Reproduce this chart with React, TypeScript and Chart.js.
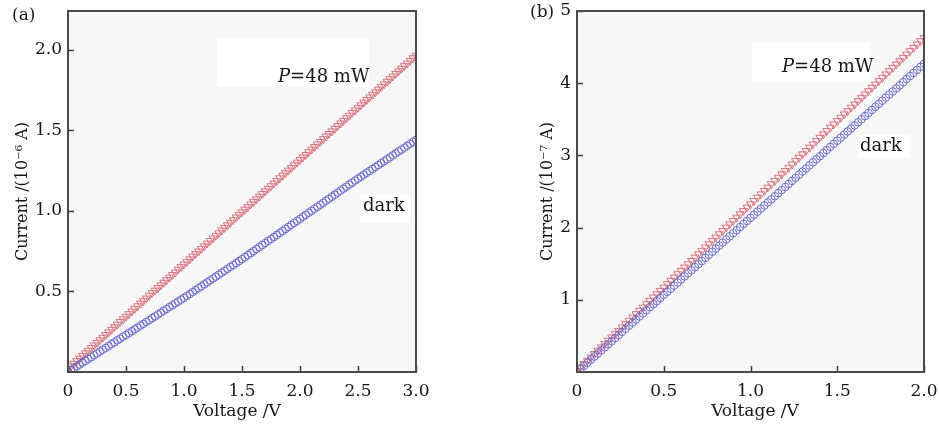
import React, { useEffect, useRef } from "react";
import { Chart, registerables } from "chart.js";
Chart.register(...registerables);

// ---------- Panel (a) data: voltage (V) vs current (1e-6 A) ----------
const VOLT_A = [
  0.0, 0.025, 0.05, 0.075, 0.1, 0.125, 0.15, 0.175, 0.2, 0.225, 0.25, 0.275, 0.3, 0.325, 0.35, 0.375,
  0.4, 0.425, 0.45, 0.475, 0.5, 0.525, 0.55, 0.575, 0.6, 0.625, 0.65, 0.675, 0.7, 0.725, 0.75, 0.775,
  0.8, 0.825, 0.85, 0.875, 0.9, 0.925, 0.95, 0.975, 1.0, 1.025, 1.05, 1.075, 1.1, 1.125, 1.15, 1.175,
  1.2, 1.225, 1.25, 1.275, 1.3, 1.325, 1.35, 1.375, 1.4, 1.425, 1.45, 1.475, 1.5, 1.525, 1.55, 1.575,
  1.6, 1.625, 1.65, 1.675, 1.7, 1.725, 1.75, 1.775, 1.8, 1.825, 1.85, 1.875, 1.9, 1.925, 1.95, 1.975,
  2.0, 2.025, 2.05, 2.075, 2.1, 2.125, 2.15, 2.175, 2.2, 2.225, 2.25, 2.275, 2.3, 2.325, 2.35, 2.375,
  2.4, 2.425, 2.45, 2.475, 2.5, 2.525, 2.55, 2.575, 2.6, 2.625, 2.65, 2.675, 2.7, 2.725, 2.75, 2.775,
  2.8, 2.825, 2.85, 2.875, 2.9, 2.925, 2.95, 2.975, 3.0,
];
const LIGHT_A = [
  0.02, 0.036, 0.052, 0.069, 0.085, 0.101, 0.117, 0.133, 0.15, 0.166, 0.182, 0.198, 0.214, 0.231, 0.247, 0.263,
  0.279, 0.295, 0.312, 0.328, 0.344, 0.36, 0.376, 0.393, 0.409, 0.425, 0.441, 0.457, 0.474, 0.49, 0.506, 0.522,
  0.538, 0.555, 0.571, 0.587, 0.603, 0.619, 0.636, 0.652, 0.668, 0.684, 0.7, 0.717, 0.733, 0.749, 0.765, 0.781,
  0.798, 0.814, 0.83, 0.846, 0.862, 0.879, 0.895, 0.911, 0.927, 0.943, 0.96, 0.976, 0.992, 1.008, 1.024, 1.041,
  1.057, 1.073, 1.089, 1.105, 1.122, 1.138, 1.154, 1.17, 1.186, 1.203, 1.219, 1.235, 1.251, 1.267, 1.284, 1.3,
  1.316, 1.332, 1.348, 1.365, 1.381, 1.397, 1.413, 1.429, 1.446, 1.462, 1.478, 1.494, 1.51, 1.527, 1.543, 1.559,
  1.575, 1.591, 1.608, 1.624, 1.64, 1.656, 1.672, 1.689, 1.705, 1.721, 1.737, 1.753, 1.77, 1.786, 1.802, 1.818,
  1.834, 1.851, 1.867, 1.883, 1.899, 1.915, 1.932, 1.948, 1.964,
];
const DARK_A = [
  0.0, 0.012, 0.023, 0.035, 0.046, 0.058, 0.069, 0.081, 0.092, 0.104, 0.115, 0.127, 0.138, 0.15, 0.161, 0.173,
  0.184, 0.196, 0.207, 0.219, 0.23, 0.242, 0.253, 0.265, 0.276, 0.288, 0.299, 0.311, 0.322, 0.334, 0.345, 0.357,
  0.368, 0.38, 0.391, 0.403, 0.414, 0.426, 0.437, 0.449, 0.46, 0.472, 0.484, 0.496, 0.508, 0.52, 0.532, 0.544,
  0.556, 0.568, 0.58, 0.592, 0.604, 0.616, 0.628, 0.64, 0.652, 0.664, 0.676, 0.688, 0.7, 0.713, 0.725, 0.738,
  0.75, 0.763, 0.775, 0.788, 0.8, 0.813, 0.825, 0.838, 0.85, 0.863, 0.875, 0.888, 0.9, 0.913, 0.925, 0.938,
  0.95, 0.963, 0.975, 0.988, 1.0, 1.013, 1.025, 1.038, 1.05, 1.063, 1.075, 1.088, 1.1, 1.113, 1.125, 1.138,
  1.15, 1.163, 1.175, 1.188, 1.2, 1.212, 1.224, 1.236, 1.248, 1.26, 1.272, 1.284, 1.296, 1.308, 1.32, 1.332,
  1.344, 1.356, 1.368, 1.38, 1.392, 1.404, 1.416, 1.428, 1.44,
];
const X_TICKS_A = [0, 0.5, 1.0, 1.5, 2.0, 2.5, 3.0];
const X_LABELS_A = ["0", "0.5", "1.0", "1.5", "2.0", "2.5", "3.0"];
const Y_TICKS_A = [0.5, 1.0, 1.5, 2.0];
const Y_LABELS_A = ["0.5", "1.0", "1.5", "2.0"];

// ---------- Panel (b) data: voltage (V) vs current (1e-7 A) ----------
const VOLT_B = [
  0.0, 0.02, 0.04, 0.06, 0.08, 0.1, 0.12, 0.14, 0.16, 0.18, 0.2, 0.22, 0.24, 0.26, 0.28, 0.3,
  0.32, 0.34, 0.36, 0.38, 0.4, 0.42, 0.44, 0.46, 0.48, 0.5, 0.52, 0.54, 0.56, 0.58, 0.6, 0.62,
  0.64, 0.66, 0.68, 0.7, 0.72, 0.74, 0.76, 0.78, 0.8, 0.82, 0.84, 0.86, 0.88, 0.9, 0.92, 0.94,
  0.96, 0.98, 1.0, 1.02, 1.04, 1.06, 1.08, 1.1, 1.12, 1.14, 1.16, 1.18, 1.2, 1.22, 1.24, 1.26,
  1.28, 1.3, 1.32, 1.34, 1.36, 1.38, 1.4, 1.42, 1.44, 1.46, 1.48, 1.5, 1.52, 1.54, 1.56, 1.58,
  1.6, 1.62, 1.64, 1.66, 1.68, 1.7, 1.72, 1.74, 1.76, 1.78, 1.8, 1.82, 1.84, 1.86, 1.88, 1.9,
  1.92, 1.94, 1.96, 1.98, 2.0,
];
const LIGHT_B = [
  0.02, 0.066, 0.112, 0.158, 0.204, 0.251, 0.297, 0.343, 0.389, 0.435, 0.481, 0.527, 0.573, 0.619, 0.665, 0.712,
  0.758, 0.804, 0.85, 0.896, 0.942, 0.988, 1.034, 1.08, 1.126, 1.173, 1.219, 1.265, 1.311, 1.357, 1.403, 1.449,
  1.495, 1.541, 1.587, 1.634, 1.68, 1.726, 1.772, 1.818, 1.864, 1.91, 1.956, 2.002, 2.048, 2.095, 2.141, 2.187,
  2.233, 2.279, 2.325, 2.371, 2.417, 2.463, 2.509, 2.556, 2.602, 2.648, 2.694, 2.74, 2.786, 2.832, 2.878, 2.924,
  2.97, 3.017, 3.063, 3.109, 3.155, 3.201, 3.247, 3.293, 3.339, 3.385, 3.431, 3.478, 3.524, 3.57, 3.616, 3.662,
  3.708, 3.754, 3.8, 3.846, 3.892, 3.939, 3.985, 4.031, 4.077, 4.123, 4.169, 4.215, 4.261, 4.307, 4.353, 4.4,
  4.446, 4.492, 4.538, 4.584, 4.63,
];
const DARK_B = [
  0.0, 0.043, 0.085, 0.128, 0.171, 0.214, 0.256, 0.299, 0.342, 0.384, 0.427, 0.47, 0.512, 0.555, 0.598, 0.641,
  0.683, 0.726, 0.769, 0.811, 0.854, 0.897, 0.939, 0.982, 1.025, 1.068, 1.11, 1.153, 1.196, 1.238, 1.281, 1.324,
  1.366, 1.409, 1.452, 1.495, 1.537, 1.58, 1.623, 1.665, 1.708, 1.751, 1.793, 1.836, 1.879, 1.922, 1.964, 2.007,
  2.05, 2.092, 2.135, 2.178, 2.22, 2.263, 2.306, 2.349, 2.391, 2.434, 2.477, 2.519, 2.562, 2.605, 2.647, 2.69,
  2.733, 2.776, 2.818, 2.861, 2.904, 2.946, 2.989, 3.032, 3.074, 3.117, 3.16, 3.203, 3.245, 3.288, 3.331, 3.373,
  3.416, 3.459, 3.501, 3.544, 3.587, 3.63, 3.672, 3.715, 3.758, 3.8, 3.843, 3.886, 3.928, 3.971, 4.014, 4.057,
  4.099, 4.142, 4.185, 4.227, 4.27,
];
const X_TICKS_B = [0, 0.5, 1.0, 1.5, 2.0];
const X_LABELS_B = ["0", "0.5", "1.0", "1.5", "2.0"];
const Y_TICKS_B = [1, 2, 3, 4, 5];
const Y_LABELS_B = ["1", "2", "3", "4", "5"];

const SERIES_LIGHT = "P=48 mW";
const SERIES_DARK = "dark";
const X_TITLE = "Voltage /V";
const Y_TITLE_A = "Current /(10\u207B\u2076 A)";
const Y_TITLE_B = "Current /(10\u207B\u2077 A)";

const FONT = "'DejaVu Serif', 'Liberation Serif', serif";
const TEXT = "#161616";
const RED = "rgba(216, 100, 112, 0.9)";
const BLUE = "rgba(96, 96, 204, 0.9)";

type PanelCfg = {
  width: number;
  axisW: number;
  padRight: number;
  xMin: number; xMax: number; yMin: number; yMax: number;
  xTicks: number[]; xLabels: string[]; yTicks: number[]; yLabels: string[];
  volt: number[]; light: number[]; dark: number[];
  yTitle: string; panel: string;
  panelPos: [number, number];
  yTitleX: number; xTitleX: number;
  lightBox: [number, number, number, number]; lightText: [number, number];
  darkBox: [number, number, number, number]; darkText: [number, number];
};

const zeroPad = (s: any) => {
  s.paddingTop = 0;
  s.paddingBottom = 0;
  s.paddingLeft = 0;
  s.paddingRight = 0;
};

function Panel({ cfg }: { cfg: PanelCfg }) {
  const ref = useRef<HTMLCanvasElement | null>(null);
  useEffect(() => {
    const canvas = ref.current!;
    const H = 429;
    const frame = {
      id: "frame",
      beforeDatasetsDraw(chart: any) {
        const { ctx, chartArea: a } = chart;
        ctx.save();
        ctx.fillStyle = "#f7f7f7";
        ctx.fillRect(a.left, a.top, a.right - a.left, a.bottom - a.top);
        ctx.fillStyle = "#ffffff";
        for (const b of [cfg.lightBox, cfg.darkBox]) ctx.fillRect(b[0], b[1], b[2] - b[0], b[3] - b[1]);
        ctx.restore();
      },
      afterDatasetsDraw(chart: any) {
        const { ctx, chartArea: a, scales } = chart;
        ctx.save();
        // inward ticks
        ctx.strokeStyle = "#3c3c3c";
        ctx.lineWidth = 1.5;
        ctx.beginPath();
        for (const v of cfg.xTicks) {
          const px = Math.round(scales.x.getPixelForValue(v)) + 0.5;
          ctx.moveTo(px, a.bottom);
          ctx.lineTo(px, a.bottom - 6);
        }
        for (const v of cfg.yTicks) {
          const py = Math.round(scales.y.getPixelForValue(v)) + 0.5;
          ctx.moveTo(a.left, py);
          ctx.lineTo(a.left + 6, py);
        }
        ctx.stroke();
        // frame
        ctx.strokeStyle = "#4a4a4a";
        ctx.lineWidth = 2;
        ctx.strokeRect(a.left, a.top, a.right - a.left, a.bottom - a.top);
        // annotations
        ctx.fillStyle = TEXT;
        ctx.textBaseline = "middle";
        ctx.textAlign = "left";
        const [lx, ly] = cfg.lightText;
        ctx.font = `italic 18px ${FONT}`;
        ctx.fillText("P", lx, ly);
        const pw = ctx.measureText("P").width;
        ctx.font = `18px ${FONT}`;
        ctx.fillText(SERIES_LIGHT.slice(1), lx + pw, ly);
        ctx.fillText(SERIES_DARK, cfg.darkText[0], cfg.darkText[1]);
        // axis titles
        ctx.font = `17px ${FONT}`;
        ctx.textAlign = "center";
        ctx.textBaseline = "alphabetic";
        ctx.fillText(X_TITLE, cfg.xTitleX, 416);
        ctx.save();
        ctx.translate(cfg.yTitleX, (a.top + a.bottom) / 2);
        ctx.rotate(-Math.PI / 2);
        ctx.font = `16px ${FONT}`;
        ctx.fillText(cfg.yTitle, 0, 0);
        ctx.restore();
        // panel label
        ctx.font = `17px ${FONT}`;
        ctx.textAlign = "left";
        ctx.textBaseline = "middle";
        ctx.fillText(cfg.panel, cfg.panelPos[0], cfg.panelPos[1]);
        ctx.restore();
      },
    };
    const chart = new Chart(canvas, {
      type: "scatter",
      data: {
        datasets: [
          {
            label: SERIES_DARK,
            data: cfg.volt.map((x, i) => ({ x, y: cfg.dark[i] })),
            pointStyle: "circle",
            pointRadius: 3.8,
            borderColor: BLUE,
            backgroundColor: "transparent",
            borderWidth: 1,
            clip: 0,
          },
          {
            label: SERIES_LIGHT,
            data: cfg.volt.map((x, i) => ({ x, y: cfg.light[i] })),
            pointStyle: "triangle",
            rotation: 180,
            pointRadius: 4.6,
            borderColor: RED,
            backgroundColor: "transparent",
            borderWidth: 1,
            clip: 0,
          },
        ],
      },
      options: {
        responsive: false,
        animation: false,
        devicePixelRatio: 1,
        layout: { autoPadding: false, padding: { top: 11, right: cfg.padRight, left: 0, bottom: 0 } },
        plugins: { legend: { display: false }, tooltip: { enabled: false } },
        scales: {
          x: {
            type: "linear",
            min: cfg.xMin,
            max: cfg.xMax,
            afterBuildTicks: (s: any) => { s.ticks = cfg.xTicks.map((value) => ({ value })); },
            afterFit: (s: any) => { s.height = H - 372; zeroPad(s); },
            ticks: {
              callback: (v: any) => cfg.xLabels[cfg.xTicks.indexOf(Number(v))] ?? "",
              font: { family: FONT, size: 17 },
              color: TEXT,
              padding: 9,
              maxRotation: 0,
              autoSkip: false,
            },
            grid: { display: false, drawTicks: false },
            border: { display: false },
          },
          y: {
            type: "linear",
            min: cfg.yMin,
            max: cfg.yMax,
            afterBuildTicks: (s: any) => { s.ticks = cfg.yTicks.map((value) => ({ value })); },
            afterFit: (s: any) => { s.width = cfg.axisW; zeroPad(s); },
            ticks: {
              callback: (v: any) => cfg.yLabels[cfg.yTicks.indexOf(Number(v))] ?? "",
              font: { family: FONT, size: 17 },
              color: TEXT,
              padding: 6,
              autoSkip: false,
            },
            grid: { display: false, drawTicks: false },
            border: { display: false },
          },
        },
      },
      plugins: [frame],
    } as any);
    return () => chart.destroy();
  }, [cfg]);
  return <canvas ref={ref} width={cfg.width} height={429} style={{ display: "block" }} />;
}

const PANEL_A: PanelCfg = {
  width: 470, axisW: 68, padRight: 54,
  xMin: 0, xMax: 3.0, yMin: 0, yMax: 2.24,
  xTicks: X_TICKS_A, xLabels: X_LABELS_A, yTicks: Y_TICKS_A, yLabels: Y_LABELS_A,
  volt: VOLT_A, light: LIGHT_A, dark: DARK_A,
  yTitle: Y_TITLE_A, panel: "(a)", panelPos: [12, 16],
  yTitleX: 27, xTitleX: 237,
  lightBox: [217, 38, 369, 87], lightText: [278, 77],
  darkBox: [360, 195, 410, 223], darkText: [363, 206],
};

const PANEL_B: PanelCfg = {
  width: 469, axisW: 107, padRight: 15,
  xMin: 0, xMax: 2.0, yMin: 0, yMax: 5,
  xTicks: X_TICKS_B, xLabels: X_LABELS_B, yTicks: Y_TICKS_B, yLabels: Y_LABELS_B,
  volt: VOLT_B, light: LIGHT_B, dark: DARK_B,
  yTitle: Y_TITLE_B, panel: "(b)", panelPos: [60, 13],
  yTitleX: 82, xTitleX: 285,
  lightBox: [282, 43, 400, 83], lightText: [312, 67],
  darkBox: [388, 135, 440, 158], darkText: [390, 146],
};

export default function App() {
  return (
    <div style={{ position: "absolute", left: 0, top: 0, width: 939, height: 429, display: "flex", background: "#ffffff" }}>
      <Panel cfg={PANEL_A} />
      <Panel cfg={PANEL_B} />
    </div>
  );
}
